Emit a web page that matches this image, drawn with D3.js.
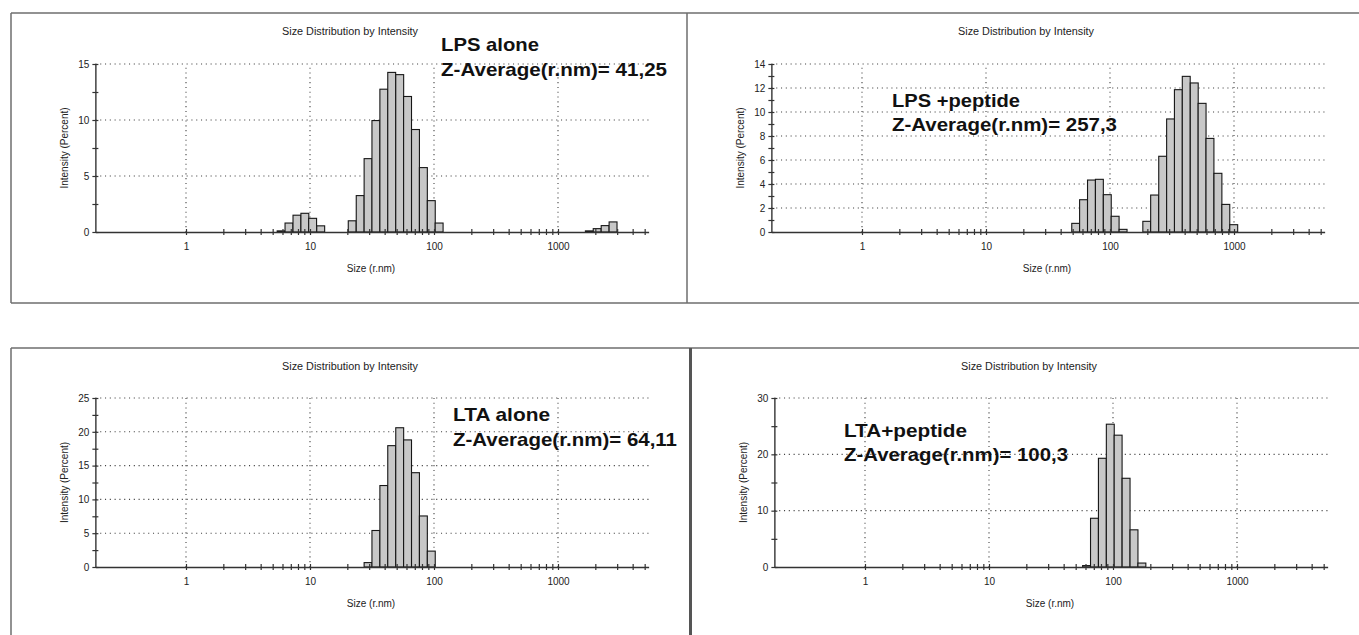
<!DOCTYPE html>
<html>
<head>
<meta charset="utf-8">
<script src="https://cdn.jsdelivr.net/npm/d3@7"></script>
<style>
  body { margin: 0; background: #fff; }
  text { font-family: "Liberation Sans", Arial, sans-serif; }
</style>
</head>
<body>
<svg id="chart"></svg>
<script>
// radius bin centres (nm) and intensity (%)
var lpsSizes = [5.85, 6.77, 7.85, 9.09, 10.5, 12.2, 21.9, 25.4, 29.4, 34.0, 39.4, 45.6, 52.9, 61.2, 70.9, 82.1, 95.1, 110, 1790, 2070, 2400, 2780]
var lpsIntensity = [0.1, 0.8, 1.5, 1.67, 1.22, 0.55, 1.0, 3.25, 6.55, 9.95, 12.75, 14.25, 14.05, 12.1, 9.15, 5.75, 2.8, 0.8, 0.1, 0.3, 0.57, 0.9]

var lpsPepSizes = [52.9, 61.2, 70.9, 82.1, 95.1, 110, 127.5, 198, 229, 266, 308, 356, 412, 478, 553, 640, 742, 859, 995]
var lpsPepIntensity = [0.72, 2.69, 4.33, 4.39, 3.11, 1.31, 0.22, 0.89, 3.08, 6.31, 9.42, 11.86, 12.97, 12.42, 10.72, 7.8, 4.89, 2.3, 0.61]

var ltaSizes = [29.4, 34.0, 39.4, 45.6, 52.9, 61.2, 70.9, 82.1, 95.1]
var ltaIntensity = [0.65, 5.4, 12.05, 17.95, 20.6, 18.8, 13.95, 7.55, 2.35]

var ltaPepSizes = [61.2, 70.9, 82.1, 95.1, 110, 127.5, 147.7, 171]
var ltaPepIntensity = [0.25, 8.65, 19.3, 25.35, 23.4, 15.75, 6.6, 0.7]

// axis ticks
var xGridValues = [1, 10, 100, 1000]
var xTickLabels = ["1", "10", "100", "1000"]
var xMinorValues = [2, 3, 4, 5, 6, 7, 8, 9, 20, 30, 40, 50, 60, 70, 80, 90,
                    200, 300, 400, 500, 600, 700, 800, 900, 2000, 3000, 4000, 5000]

var titleText = "Size Distribution by Intensity"
var xLabelText = "Size (r.nm)"
var yLabelText = "Intensity (Percent)"

var panels = [
  { sizes: lpsSizes, values: lpsIntensity, yMax: 15, yMajor: 5, yMinor: 2.5,
    x1: 186, y0: 232, yTop: 64, names: ["LPS alone", "Z-Average(r.nm)= 41,25"],
    tx: 441, ty: [51, 76], tw: [98, 226] },
  { sizes: lpsPepSizes, values: lpsPepIntensity, yMax: 14, yMajor: 2, yMinor: 1,
    x1: 862, y0: 232, yTop: 64, names: ["LPS +peptide", "Z-Average(r.nm)= 257,3"],
    tx: 892, ty: [107, 131], tw: [128, 225] },
  { sizes: ltaSizes, values: ltaIntensity, yMax: 25, yMajor: 5, yMinor: 2.5,
    x1: 186, y0: 567, yTop: 398, names: ["LTA alone", "Z-Average(r.nm)= 64,11"],
    tx: 453, ty: [421, 446], tw: [97, 224] },
  { sizes: ltaPepSizes, values: ltaPepIntensity, yMax: 30, yMajor: 10, yMinor: 5,
    x1: 865, y0: 567, yTop: 398, names: ["LTA+peptide", "Z-Average(r.nm)= 100,3"],
    tx: 844, ty: [437, 461], tw: [123, 224] }
]

var dimensions = { width: 1359, height: 635 }
var decade = 124
var half = Math.pow(10, 0.06374 / 2)   // half a log bin
var domain = [0.2 / half, 5000 * half]

var svg = d3.select("#chart")
  .attr("width", dimensions.width)
  .attr("height", dimensions.height)

// frames round the panels
var frameColor = "#6e6e6e"
var frames = [
  [11, 13, 1359, 13], [11, 303, 1359, 303], [11, 13, 11, 303], [687, 13, 687, 303],
  [11, 348, 1359, 348], [11, 348, 11, 635]
]
svg.selectAll(".frame")
  .data(frames)
  .join("line")
  .attr("x1", d => d[0]).attr("y1", d => d[1])
  .attr("x2", d => d[2]).attr("y2", d => d[3])
  .attr("stroke", frameColor)
  .attr("stroke-width", 1.5)
svg.append("line")
  .attr("x1", 690.5).attr("y1", 348).attr("x2", 690.5).attr("y2", 635)
  .attr("stroke", "#555").attr("stroke-width", 3)

function drawPanel(p) {
  var g = svg.append("g")

  var x = d3.scaleLog()
    .domain(domain)
    .range([p.x1 + Math.log10(domain[0]) * decade, p.x1 + Math.log10(domain[1]) * decade])

  var y = d3.scaleLinear()
    .domain([0, p.yMax])
    .range([p.y0, p.yTop])

  var yMajors = d3.range(0, p.yMax + 0.001, p.yMajor)
  var yAll = d3.range(0, p.yMax + 0.001, p.yMinor)

  // dotted grid
  g.selectAll(".vgrid")
    .data(xGridValues)
    .join("line")
    .attr("x1", d => x(d)).attr("x2", d => x(d))
    .attr("y1", y(0)).attr("y2", y(p.yMax))
    .attr("stroke", "#444")
    .attr("stroke-width", 1.1)
    .attr("stroke-dasharray", "1.1,3.7")
  g.selectAll(".hgrid")
    .data(yMajors.filter(d => d > 0))
    .join("line")
    .attr("x1", x.range()[0]).attr("x2", x.range()[1])
    .attr("y1", d => y(d)).attr("y2", d => y(d))
    .attr("stroke", "#444")
    .attr("stroke-width", 1.1)
    .attr("stroke-dasharray", "1.1,3.7")

  // histogram bars
  var bars = p.sizes.map((s, i) => ({ size: s, value: p.values[i] }))
  g.selectAll(".bar")
    .data(bars)
    .join("rect")
    .attr("x", d => x(d.size / half))
    .attr("width", d => x(d.size * half) - x(d.size / half))
    .attr("y", d => y(d.value))
    .attr("height", d => y(0) - y(d.value))
    .attr("fill", "#c8c8c8")
    .attr("stroke", "#161616")
    .attr("stroke-width", 1.1)

  // x axis
  var xAxis = g.append("g")
    .attr("transform", "translate(0," + y(0) + ")")
    .call(d3.axisBottom(x)
      .tickValues(xGridValues.concat(xMinorValues))
      .tickSizeOuter(0)
      .tickSizeInner(3)
      .tickPadding(8)
      .tickFormat(d => { var i = xGridValues.indexOf(d); return i < 0 ? "" : xTickLabels[i] }))
  xAxis.select(".domain").attr("stroke", "#333").attr("stroke-width", 1.4)
  xAxis.selectAll(".tick line").attr("y1", -3).attr("y2", 3).attr("stroke", "#333").attr("stroke-width", 1.2)
  xAxis.selectAll(".tick text").attr("font-size", 10).attr("fill", "#222")
    .style("font-family", "'Liberation Sans', Arial, sans-serif")

  // y axis
  var yAxis = g.append("g")
    .attr("transform", "translate(" + x.range()[0] + ",0)")
    .call(d3.axisLeft(y)
      .tickValues(yAll)
      .tickSizeOuter(0)
      .tickSizeInner(3)
      .tickPadding(3)
      .tickFormat(d => yMajors.indexOf(d) < 0 ? "" : d))
  yAxis.select(".domain").attr("stroke", "#333").attr("stroke-width", 1.4)
  yAxis.selectAll(".tick line").attr("x1", -3).attr("x2", 3).attr("stroke", "#333").attr("stroke-width", 1.2)
  yAxis.selectAll(".tick text").attr("font-size", 10).attr("fill", "#222")
    .style("font-family", "'Liberation Sans', Arial, sans-serif")

  var cx = (x.range()[0] + x.range()[1]) / 2

  // title and axis labels
  g.append("text")
    .attr("x", cx - 22).attr("y", p.y0 - 197)
    .attr("text-anchor", "middle")
    .attr("font-size", 10)
    .attr("fill", "#222")
    .attr("textLength", 136)
    .attr("lengthAdjust", "spacingAndGlyphs")
    .text(titleText)
  g.append("text")
    .attr("x", cx - 1).attr("y", p.y0 + 40)
    .attr("text-anchor", "middle")
    .attr("font-size", 10)
    .attr("fill", "#222")
    .text(xLabelText)
  g.append("text")
    .attr("transform", "translate(" + (x.range()[0] - 27) + "," + ((p.y0 + p.yTop) / 2) + ") rotate(-90)")
    .attr("text-anchor", "middle")
    .attr("font-size", 10)
    .attr("fill", "#222")
    .text(yLabelText)

  // sample label and z-average
  g.selectAll(".note")
    .data(p.names)
    .join("text")
    .attr("x", p.tx)
    .attr("y", (d, i) => p.ty[i])
    .attr("font-size", 19)
    .attr("font-weight", "bold")
    .attr("fill", "#111")
    .attr("textLength", (d, i) => p.tw[i])
    .attr("lengthAdjust", "spacingAndGlyphs")
    .text(d => d)
}

panels.forEach(drawPanel)
</script>
</body>
</html>
